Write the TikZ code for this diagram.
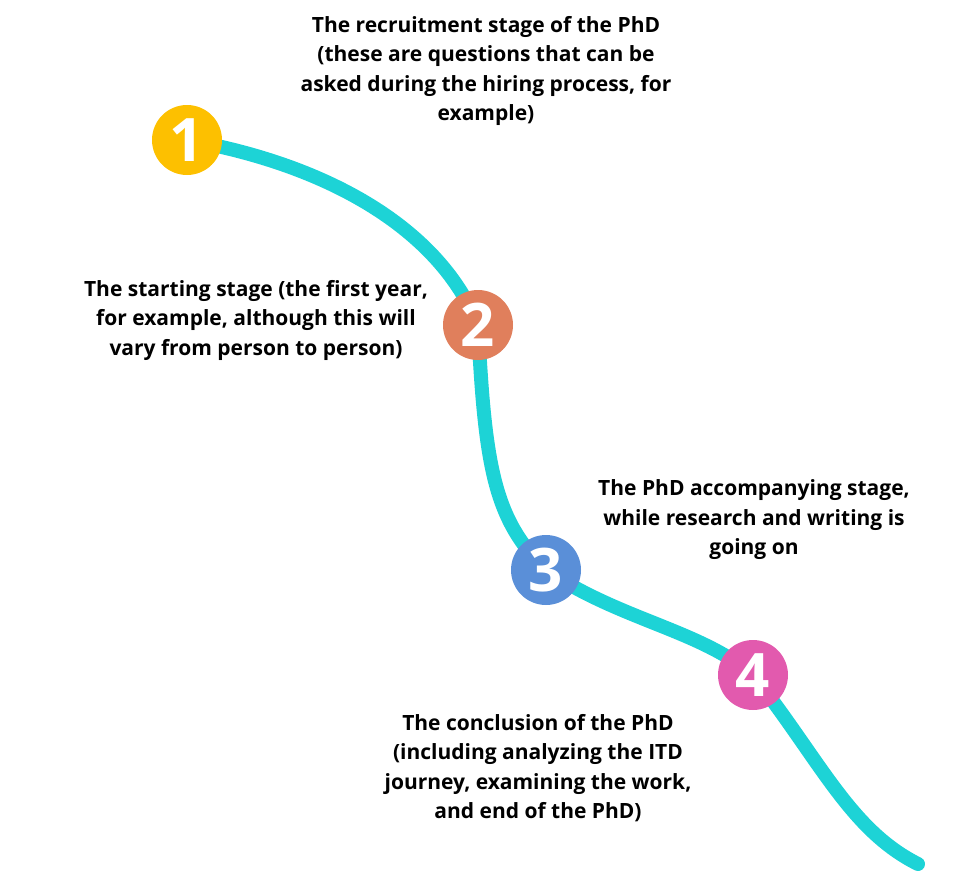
\documentclass[tikz,border=0pt]{standalone}
\usepackage{fontspec}
\setmainfont{Open Sans}
\definecolor{pathcolor}{HTML}{1DD3D6}
\definecolor{stageonecolor}{HTML}{FDC000}
\definecolor{stagetwocolor}{HTML}{E07F5C}
\definecolor{stagethreecolor}{HTML}{5A8FD8}
\definecolor{stagefourcolor}{HTML}{E25AAE}
\def \stageradius {35pt}
\def \pathwidth {14pt}
\tikzset{
  stage/.style={circle, minimum size=2*\stageradius, inner sep=0pt, text=white,
    font=\bfseries\fontsize{60}{60}\selectfont},
  stagetext/.style={align=center, inner sep=0pt,
    font=\bfseries\fontsize{21}{29.5}\selectfont}
}

\begin{document}
\begin{tikzpicture}[x=1pt,y=-1pt]
\useasboundingbox (0,0) rectangle (977,881);
% Place the stages
\coordinate (s1) at (187,140);
\coordinate (s2) at (478,325);
\coordinate (s3) at (546,570);
\coordinate (s4) at (753,675);
\coordinate (pathend) at (918,864);
% Draw the path through the stages
\draw[pathcolor, line width=\pathwidth, line cap=round]
  (s1) .. controls (330,165) and (440,230) .. (s2)
  .. controls (485,470) and (495,520) .. (s3)
  .. controls (620,620) and (700,630) .. (s4)
  .. controls (820,760) and (850,830) .. (pathend);
% Draw the stage circles on top of the path
\node[stage, fill=stageonecolor] (c1) at (s1) {1};
\node[stage, fill=stagetwocolor] (c2) at (s2) {2};
\node[stage, fill=stagethreecolor] (c3) at (s3) {3};
\node[stage, fill=stagefourcolor] (c4) at (s4) {4};
% Draw the texts of the stages
\node[stagetext] (t1) at (486,71) {The recruitment stage of the PhD\\(these are questions that can be\\asked during the hiring process, for\\example)};
\node[stagetext] (t2) at (256,320) {The starting stage (the first year,\\for example, although this will\\vary from person to person)};
\node[stagetext] (t3) at (754,520) {The PhD accompanying stage,\\while research and writing is\\going on};
\node[stagetext] (t4) at (538,768) {The conclusion of the PhD\\(including analyzing the ITD\\journey, examining the work,\\and end of the PhD)};
\end{tikzpicture}
\end{document}
